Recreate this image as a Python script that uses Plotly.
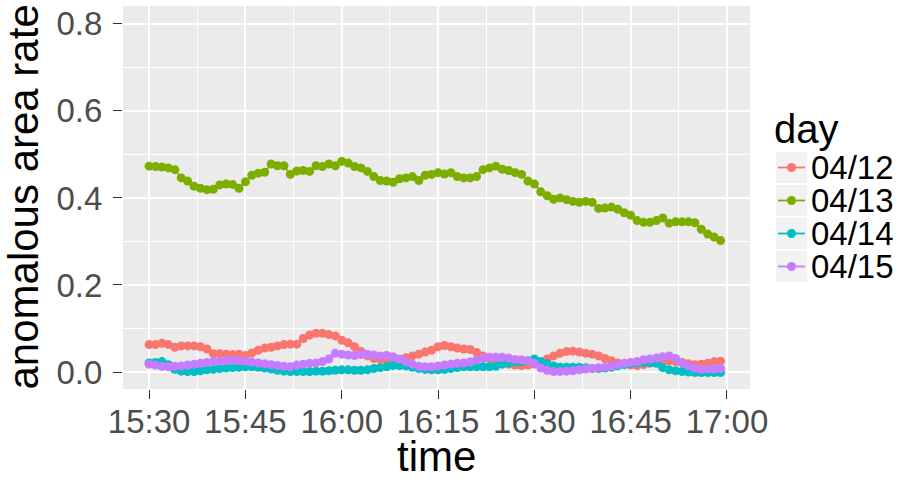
import pandas as pd
import plotly.graph_objects as go

# ---- data ----
times = pd.date_range("2015-04-12 15:30", periods=90, freq="min")

day_labels = ["04/12", "04/13", "04/14", "04/15"]
colors = ["#F8766D", "#7CAE00", "#00BFC4", "#C77CFF"]

rate_0412 = [
    0.063, 0.063, 0.066, 0.063, 0.057, 0.060, 0.060, 0.060, 0.058, 0.053,
    0.042, 0.042, 0.041, 0.040, 0.041, 0.038, 0.044, 0.050, 0.055, 0.057,
    0.060, 0.063, 0.064, 0.064, 0.077, 0.085, 0.089, 0.089, 0.086, 0.083,
    0.073, 0.067, 0.058, 0.047, 0.037, 0.031, 0.029, 0.028, 0.027, 0.028,
    0.033, 0.037, 0.041, 0.046, 0.050, 0.058, 0.061, 0.058, 0.055, 0.053,
    0.052, 0.045, 0.037, 0.031, 0.026, 0.022, 0.018, 0.016, 0.015, 0.016,
    0.018, 0.022, 0.030, 0.037, 0.043, 0.047, 0.048, 0.046, 0.043, 0.041,
    0.037, 0.031, 0.026, 0.021, 0.018, 0.016, 0.015, 0.017, 0.020, 0.022,
    0.024, 0.026, 0.024, 0.022, 0.019, 0.017, 0.018, 0.020, 0.024, 0.025,
]

rate_0413 = [
    0.473, 0.472, 0.471, 0.469, 0.465, 0.446, 0.439, 0.427, 0.422, 0.419,
    0.420, 0.430, 0.432, 0.431, 0.422, 0.437, 0.452, 0.457, 0.459, 0.478,
    0.474, 0.474, 0.454, 0.462, 0.463, 0.461, 0.474, 0.472, 0.478, 0.474,
    0.484, 0.480, 0.472, 0.469, 0.461, 0.449, 0.440, 0.439, 0.436, 0.444,
    0.446, 0.449, 0.440, 0.452, 0.454, 0.458, 0.455, 0.458, 0.449, 0.446,
    0.446, 0.449, 0.465, 0.469, 0.473, 0.466, 0.463, 0.458, 0.454, 0.439,
    0.432, 0.414, 0.405, 0.397, 0.400, 0.396, 0.392, 0.390, 0.392, 0.390,
    0.376, 0.377, 0.379, 0.374, 0.366, 0.360, 0.348, 0.344, 0.344, 0.348,
    0.354, 0.342, 0.345, 0.345, 0.345, 0.343, 0.328, 0.317, 0.310, 0.302,
]

rate_0414 = [
    0.021, 0.022, 0.024, 0.017, 0.006, 0.002, 0.001, 0.001, 0.003, 0.005,
    0.006, 0.008, 0.009, 0.010, 0.011, 0.012, 0.012, 0.011, 0.009, 0.007,
    0.004, 0.002, 0.001, 0.001, 0.001, 0.001, 0.002, 0.002, 0.003, 0.004,
    0.005, 0.005, 0.004, 0.004, 0.005, 0.008, 0.010, 0.012, 0.015, 0.015,
    0.014, 0.011, 0.008, 0.006, 0.005, 0.005, 0.006, 0.008, 0.010, 0.012,
    0.012, 0.012, 0.012, 0.012, 0.013, 0.018, 0.021, 0.023, 0.024, 0.026,
    0.030, 0.024, 0.019, 0.014, 0.011, 0.011, 0.011, 0.011, 0.010, 0.008,
    0.008, 0.009, 0.011, 0.014, 0.017, 0.019, 0.021, 0.022, 0.022, 0.020,
    0.010, 0.005, 0.003, 0.001, 0.000, -0.001, -0.001, -0.001, -0.001, -0.001,
]

rate_0415 = [
    0.018, 0.016, 0.013, 0.012, 0.013, 0.014, 0.016, 0.018, 0.020, 0.022,
    0.024, 0.025, 0.026, 0.027, 0.026, 0.025, 0.023, 0.021, 0.019, 0.017,
    0.015, 0.013, 0.012, 0.016, 0.018, 0.020, 0.021, 0.024, 0.030, 0.043,
    0.041, 0.039, 0.038, 0.040, 0.041, 0.039, 0.037, 0.038, 0.035, 0.030,
    0.024, 0.018, 0.013, 0.012, 0.012, 0.014, 0.016, 0.018, 0.020, 0.021,
    0.023, 0.028, 0.031, 0.034, 0.034, 0.034, 0.032, 0.029, 0.028, 0.026,
    0.020, 0.009, 0.004, 0.001, 0.001, 0.002, 0.003, 0.005, 0.007, 0.008,
    0.010, 0.011, 0.013, 0.017, 0.020, 0.022, 0.024, 0.028, 0.030, 0.032,
    0.035, 0.037, 0.031, 0.021, 0.014, 0.008, 0.006, 0.007, 0.007, 0.008,
]

series = [rate_0412, rate_0413, rate_0414, rate_0415]

x_tick_vals = pd.date_range("2015-04-12 15:30", "2015-04-12 17:00", freq="15min")
x_tick_text = [t.strftime("%H:%M") for t in x_tick_vals]
y_tick_vals = [0.0, 0.2, 0.4, 0.6, 0.8]

x_title = "time"
y_title = "anomalous area rate"
legend_title = "day"

FONT = "Liberation Sans, Arial, sans-serif"
W, H = 898, 481
ML, MR, MT, MB = 123, 148, 6, 92
PW, PH = W - ML - MR, H - MT - MB

def px_x(px):
    return (px - ML) / PW

def px_y(py):
    return (H - MB - py) / PH

fig = go.Figure()

# lines first (ggplot draws the line layer below the point layer)
for lab, col, vals in zip(day_labels, colors, series):
    fig.add_trace(go.Scatter(
        x=times, y=vals, mode="lines", line=dict(color=col, width=1.6),
        showlegend=False, hoverinfo="skip",
    ))
for lab, col, vals in zip(day_labels, colors, series):
    fig.add_trace(go.Scatter(
        x=times, y=vals, mode="markers", name=lab, showlegend=False,
        marker=dict(color=col, size=9, line=dict(width=0)),
    ))

annotations = [
    # axis titles
    dict(text=x_title, xref="paper", yref="paper", x=0.5, y=px_y(481),
         xanchor="center", yanchor="bottom", showarrow=False, borderpad=0,
         font=dict(size=42, color="black", family=FONT)),
    dict(text=y_title, xref="paper", yref="paper", x=px_x(23), y=0.5,
         xanchor="center", yanchor="middle", textangle=-90, showarrow=False, borderpad=0,
         font=dict(size=42, color="black", family=FONT)),
    # legend title
    dict(text=legend_title, xref="paper", yref="paper", x=px_x(773), y=px_y(129),
         xanchor="left", yanchor="middle", showarrow=False, borderpad=0,
         font=dict(size=40, color="black", family=FONT)),
]

# ggplot-style legend keys (grey boxes with line + dot) and labels
shapes = []
key_left, key_w, row_top0, row_h = 776, 31, 151, 33
for i, (lab, col) in enumerate(zip(day_labels, colors)):
    top = row_top0 + i * row_h
    cy = top + row_h / 2
    shapes.append(dict(type="rect", xref="paper", yref="paper", layer="above",
                       x0=px_x(key_left), x1=px_x(key_left + key_w),
                       y0=px_y(top + 1), y1=px_y(top + row_h - 1),
                       fillcolor="#F2F2F2", line=dict(width=0)))
    shapes.append(dict(type="line", xref="paper", yref="paper", layer="above",
                       x0=px_x(key_left + 2), x1=px_x(key_left + key_w - 2),
                       y0=px_y(cy), y1=px_y(cy), line=dict(color=col, width=1.8)))
    shapes.append(dict(type="circle", xref="paper", yref="paper", layer="above",
                       xsizemode="pixel", ysizemode="pixel",
                       xanchor=px_x(key_left + key_w / 2), yanchor=px_y(cy),
                       x0=-4.5, x1=4.5, y0=-4.5, y1=4.5,
                       fillcolor=col, line=dict(width=0)))
    annotations.append(dict(
        text=lab, xref="paper", yref="paper", x=px_x(810), y=px_y(cy),
        xanchor="left", yanchor="middle", showarrow=False, borderpad=0,
        font=dict(size=33, color="black", family=FONT),
    ))

fig.update_layout(
    width=W, height=H,
    margin=dict(l=ML, r=MR, t=MT, b=MB, autoexpand=False),
    paper_bgcolor="white",
    plot_bgcolor="#EBEBEB",
    font=dict(family=FONT, color="black"),
    showlegend=False,
    shapes=shapes,
    annotations=annotations,
    xaxis=dict(
        type="date", automargin=False,
        range=["2015-04-12 15:25:56", "2015-04-12 17:03:35"],
        tickvals=list(x_tick_vals), ticktext=x_tick_text,
        tickfont=dict(size=33, color="#4D4D4D"),
        ticks="outside", ticklen=9, tickwidth=1.2, tickcolor="#333333",
        ticklabelstandoff=-6,
        showgrid=True, gridcolor="white", gridwidth=1.5,
        minor=dict(dtick=450000, tick0="2015-04-12 15:30", showgrid=True,
                   gridcolor="white", gridwidth=0.7, ticks=""),
        zeroline=False, showline=False,
    ),
    yaxis=dict(
        automargin=False,
        range=[-0.039, 0.841],
        tickvals=y_tick_vals, tickformat=".1f",
        tickfont=dict(size=33, color="#4D4D4D"),
        ticks="outside", ticklen=9, tickwidth=1.2, tickcolor="#333333",
        ticklabelstandoff=4,
        showgrid=True, gridcolor="white", gridwidth=1.5,
        minor=dict(dtick=0.1, tick0=0.1, showgrid=True,
                   gridcolor="white", gridwidth=0.7, ticks=""),
        zeroline=False, showline=False,
    ),
)

fig.write_html("out.html", config={"displayModeBar": False},
               post_script="document.body.style.margin='0px';")
